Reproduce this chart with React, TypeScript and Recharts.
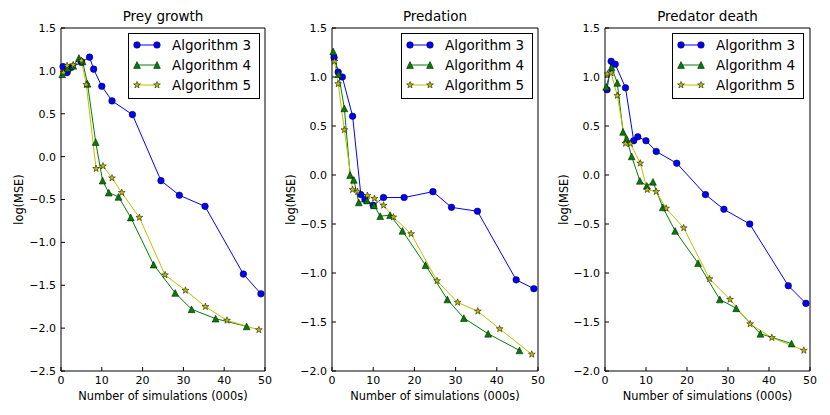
import { LineChart, Line, XAxis, YAxis, Legend } from "recharts";

// shared tick positions
const X_TICKS = [0, 10, 20, 30, 40, 50];
const Y_TICKS_PREY = [-2.5, -2, -1.5, -1, -0.5, 0, 0.5, 1, 1.5];
const Y_TICKS_OTHER = [-2, -1.5, -1, -0.5, 0, 0.5, 1, 1.5];

// number of simulations (000s) each algorithm was run at
const ALG3_X = [0.5, 1.5, 2.5, 5, 7, 8, 10, 12.5, 17.5, 24.5, 29, 35.3, 44.7, 49];
const ALG4_X = [0.3, 1.6, 3, 4.4, 5.3, 6.5, 8.5, 10.2, 11.7, 14.1, 17.1, 22.7, 28, 32, 37.9, 45.5];
const ALG5_X = [0.6, 1.5, 3, 5, 6.2, 8.6, 10.3, 12.5, 14.9, 19.2, 25.5, 30.5, 35.4, 40.7, 48.5];

// log(MSE) per parameter
const PREY_ALG3 = [1.05, 0.98, 1.04, 1.1, 1.16, 1.02, 0.82, 0.65, 0.49, -0.28, -0.45, -0.58, -1.37, -1.6];
const PREY_ALG4 = [0.96, 1.03, 1.06, 1.15, 1.11, 0.85, 0.17, -0.28, -0.42, -0.47, -0.71, -1.26, -1.59, -1.78, -1.89, -1.98];
const PREY_ALG5 = [0.98, 1.06, 1.07, 1.12, 0.84, -0.14, -0.11, -0.25, -0.42, -0.71, -1.38, -1.56, -1.75, -1.91, -2.02];

const PRED_ALG3 = [1.2, 1.05, 1.0, 0.6, -0.2, -0.25, -0.31, -0.23, -0.23, -0.17, -0.33, -0.37, -1.07, -1.16];
const PRED_ALG4 = [1.26, 1.03, 0.68, 0.0, -0.05, -0.28, -0.26, -0.31, -0.42, -0.41, -0.57, -0.92, -1.27, -1.46, -1.62, -1.79];
const PRED_ALG5 = [1.16, 0.93, 0.46, -0.15, -0.17, -0.21, -0.24, -0.31, -0.43, -0.6, -1.08, -1.3, -1.39, -1.57, -1.83];

const DEATH_ALG3 = [0.87, 1.16, 1.13, 0.89, 0.35, 0.39, 0.35, 0.24, 0.12, -0.2, -0.35, -0.5, -1.13, -1.31];
const DEATH_ALG4 = [0.9, 1.1, 0.94, 0.44, 0.37, 0.19, -0.06, -0.11, -0.07, -0.33, -0.57, -0.9, -1.27, -1.36, -1.62, -1.72];
const DEATH_ALG5 = [1.03, 1.04, 0.81, 0.32, 0.32, 0.12, -0.15, -0.17, -0.34, -0.54, -1.06, -1.27, -1.52, -1.66, -1.79];

const NAMES = ["Algorithm 3", "Algorithm 4", "Algorithm 5"];
const COLORS = ["#0000ff", "#008000", "#bfbf00"];
const SHAPES = ["circle", "triangle", "star"];

const zip = (xs: number[], ys: number[]) => xs.map((x, i) => ({ x, y: ys[i] }));
const fmt = (v: number) => v.toFixed(1).replace("-", "\u2212");

function marker(shape: string, cx: number, cy: number, fill: string, key?: string | number) {
  if (shape === "circle") {
    return <circle key={key} cx={cx} cy={cy} r={3.3} fill={fill} stroke="#000" strokeWidth={0.5} />;
  }
  if (shape === "triangle") {
    const r = 3.4;
    const pts = `${cx},${cy - r} ${cx - r},${cy + r} ${cx + r},${cy + r}`;
    return <polygon key={key} points={pts} fill={fill} stroke="#000" strokeWidth={0.5} />;
  }
  const pts: string[] = [];
  for (let k = 0; k < 10; k++) {
    const rad = k % 2 === 0 ? 3.6 : 1.45;
    const a = -Math.PI / 2 + (k * Math.PI) / 5;
    pts.push(`${cx + rad * Math.cos(a)},${cy + rad * Math.sin(a)}`);
  }
  return <polygon key={key} points={pts.join(" ")} fill={fill} stroke="#000" strokeWidth={0.5} />;
}

function LegendBox() {
  return (
    <svg width={132} height={66} style={{ display: "block" }}>
      <rect x={0.5} y={0.5} width={131} height={65} fill="#fff" stroke="#000" />
      {NAMES.map((name, i) => {
        const cy = 12 + i * 20;
        return (
          <g key={name}>
            <line x1={9} x2={29} y1={cy} y2={cy} stroke={COLORS[i]} />
            {marker(SHAPES[i], 9, cy, COLORS[i])}
            {marker(SHAPES[i], 29, cy, COLORS[i])}
            <text x={44} y={cy + 5} fontSize={13.5} fill="#000">{name}</text>
          </g>
        );
      })}
    </svg>
  );
}

interface PanelProps {
  left: number;
  width: number;
  yAxisW: number;
  rightM: number;
  legendLeft: number;
  labelX: number;
  title: string;
  yTicks: number[];
  series: { x: number; y: number }[][];
}

function Panel({ left, width, yAxisW, rightM, legendLeft, labelX, title, yTicks, series }: PanelProps) {
  const yDomain = [yTicks[0], yTicks[yTicks.length - 1]];
  const axisCommon = {
    axisLine: { stroke: "#000" },
    tickLine: { stroke: "#000" },
    tickSize: -4,
  };
  return (
    <div style={{ position: "absolute", left, top: 0 }}>
      <LineChart width={width} height={415} margin={{ top: 27, right: rightM - 1, bottom: 0, left: 0 }}>
        <XAxis
          type="number" dataKey="x" domain={[0, 50]} ticks={X_TICKS} height={44}
          {...axisCommon} tickMargin={9} tick={{ fontSize: 11, fill: "#000" }}
          label={{ value: "Number of simulations (000s)", position: "insideBottom", offset: 15.5, fontSize: 11.4, fill: "#000" }}
        />
        <XAxis
          xAxisId="top" orientation="top" type="number" domain={[0, 50]} ticks={X_TICKS} height={1}
          {...axisCommon} tickFormatter={() => ""}
          label={{ value: title, position: "top", offset: 6, fontSize: 13.5, fill: "#000" }}
        />
        <YAxis
          type="number" domain={yDomain} ticks={yTicks} width={yAxisW} allowDataOverflow
          {...axisCommon} tickMargin={9} tick={{ fontSize: 11, fill: "#000" }} tickFormatter={fmt}
          label={{
            content: (p: any) => {
              const vb = p.viewBox;
              const cy = vb.y + vb.height / 2;
              return (
                <text x={labelX} y={cy} transform={`rotate(-90 ${labelX} ${cy})`} textAnchor="middle" fontSize={11.4} fill="#000">
                  log(MSE)
                </text>
              );
            },
          }}
        />
        <YAxis
          yAxisId="right" orientation="right" type="number" domain={yDomain} ticks={yTicks} width={1}
          {...axisCommon} tickFormatter={() => ""}
        />
        {series.map((d, i) => (
          <Line
            key={NAMES[i]}
            name={NAMES[i]}
            data={d}
            dataKey="y"
            type="linear"
            stroke={COLORS[i]}
            strokeWidth={1}
            isAnimationActive={false}
            activeDot={false}
            dot={(p: any) => marker(SHAPES[i], p.cx, p.cy, COLORS[i], p.index)}
          />
        ))}
        <Legend
          layout="vertical" align="center" verticalAlign="middle"
          wrapperStyle={{ left: legendLeft, top: 33, width: 132, height: 66 }}
          content={() => <LegendBox />}
        />
      </LineChart>
    </div>
  );
}

export default function App() {
  return (
    <div style={{ position: "absolute", left: 0, top: 0, width: 830, height: 415, background: "#fff", fontFamily: "DejaVu Sans" }}>
      <Panel
        left={0} width={275} yAxisW={61} rightM={10} legendLeft={128} labelX={23}
        title="Prey growth" yTicks={Y_TICKS_PREY}
        series={[zip(ALG3_X, PREY_ALG3), zip(ALG4_X, PREY_ALG4), zip(ALG5_X, PREY_ALG5)]}
      />
      <Panel
        left={280} width={270} yAxisW={52} rightM={12} legendLeft={121} labelX={14.5}
        title="Predation" yTicks={Y_TICKS_OTHER}
        series={[zip(ALG3_X, PRED_ALG3), zip(ALG4_X, PRED_ALG4), zip(ALG5_X, PRED_ALG5)]}
      />
      <Panel
        left={550} width={280} yAxisW={55} rightM={20} legendLeft={122} labelX={18}
        title="Predator death" yTicks={Y_TICKS_OTHER}
        series={[zip(ALG3_X, DEATH_ALG3), zip(ALG4_X, DEATH_ALG4), zip(ALG5_X, DEATH_ALG5)]}
      />
    </div>
  );
}
